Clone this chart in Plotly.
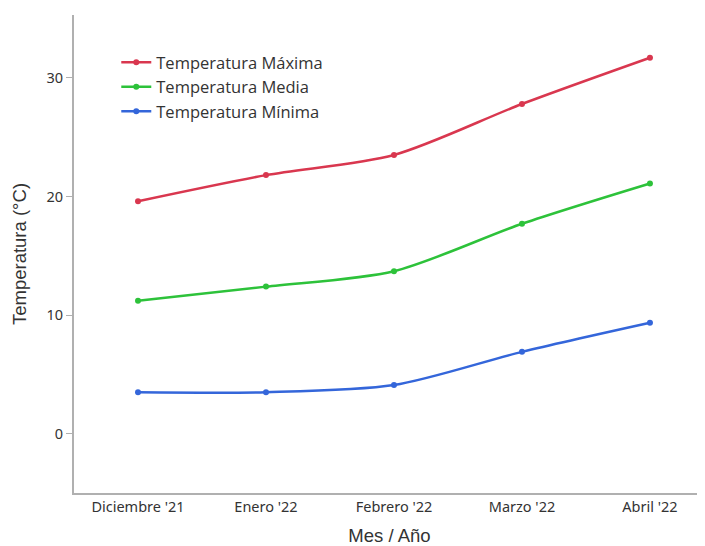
import plotly.graph_objects as go

meses = ["Diciembre '21", "Enero '22", "Febrero '22", "Marzo '22", "Abril '22"]
temp_max = [19.6, 21.8, 23.5, 27.8, 31.7]
temp_media = [11.2, 12.4, 13.7, 17.7, 21.1]
temp_min = [3.5, 3.5, 4.1, 6.9, 9.35]

series = [
    ("Temperatura Máxima", temp_max, "#d9374f"),
    ("Temperatura Media", temp_media, "#2dc23a"),
    ("Temperatura Mínima", temp_min, "#3466da"),
]

fig = go.Figure()
for name, vals, color in series:
    fig.add_trace(go.Scatter(
        x=meses, y=vals, name=name, mode="lines+markers",
        line=dict(color=color, width=2.5, shape="spline", smoothing=0.8),
        marker=dict(color=color, size=6),
    ))

tick_font = dict(family="Noto Sans, sans-serif", size=14.5, color="#333")
title_font = dict(family="Liberation Sans, Arial, sans-serif", size=18.5, color="#333")

# the page body adds an 8px offset, so the figure is 8px smaller than the window
fig.update_layout(
    width=697, height=538,
    margin=dict(l=66, r=0, t=7, b=53, autoexpand=False),
    paper_bgcolor="white", plot_bgcolor="white",
    font=dict(family="Liberation Sans, Arial, sans-serif", size=13, color="#333"),
    showlegend=True,
    legend=dict(x=0.067, y=0.937, xanchor="left", yanchor="top",
                bgcolor="rgba(0,0,0,0)",
                font=dict(family="Open Sans, sans-serif", size=16.5, color="#333"),
                tracegroupgap=0, itemwidth=30),
    xaxis=dict(
        range=[-0.5, 4.43], showgrid=False, zeroline=False,
        showline=True, linecolor="#b0b0b0", linewidth=2,
        ticks="", tickfont=tick_font, automargin=False,
        title=dict(text="Mes / Año", font=title_font, standoff=25),
    ),
    yaxis=dict(
        range=[-5, 35.3], showgrid=False, zeroline=False,
        showline=True, linecolor="#b0b0b0", linewidth=2,
        tickvals=[0, 10, 20, 30], ticks="outside", ticklen=6, tickcolor="#b0b0b0",
        tickfont=tick_font, automargin=False,
        title=dict(text="Temperatura (°C)", font=title_font, standoff=15),
    ),
)

fig.write_html("out.html")
